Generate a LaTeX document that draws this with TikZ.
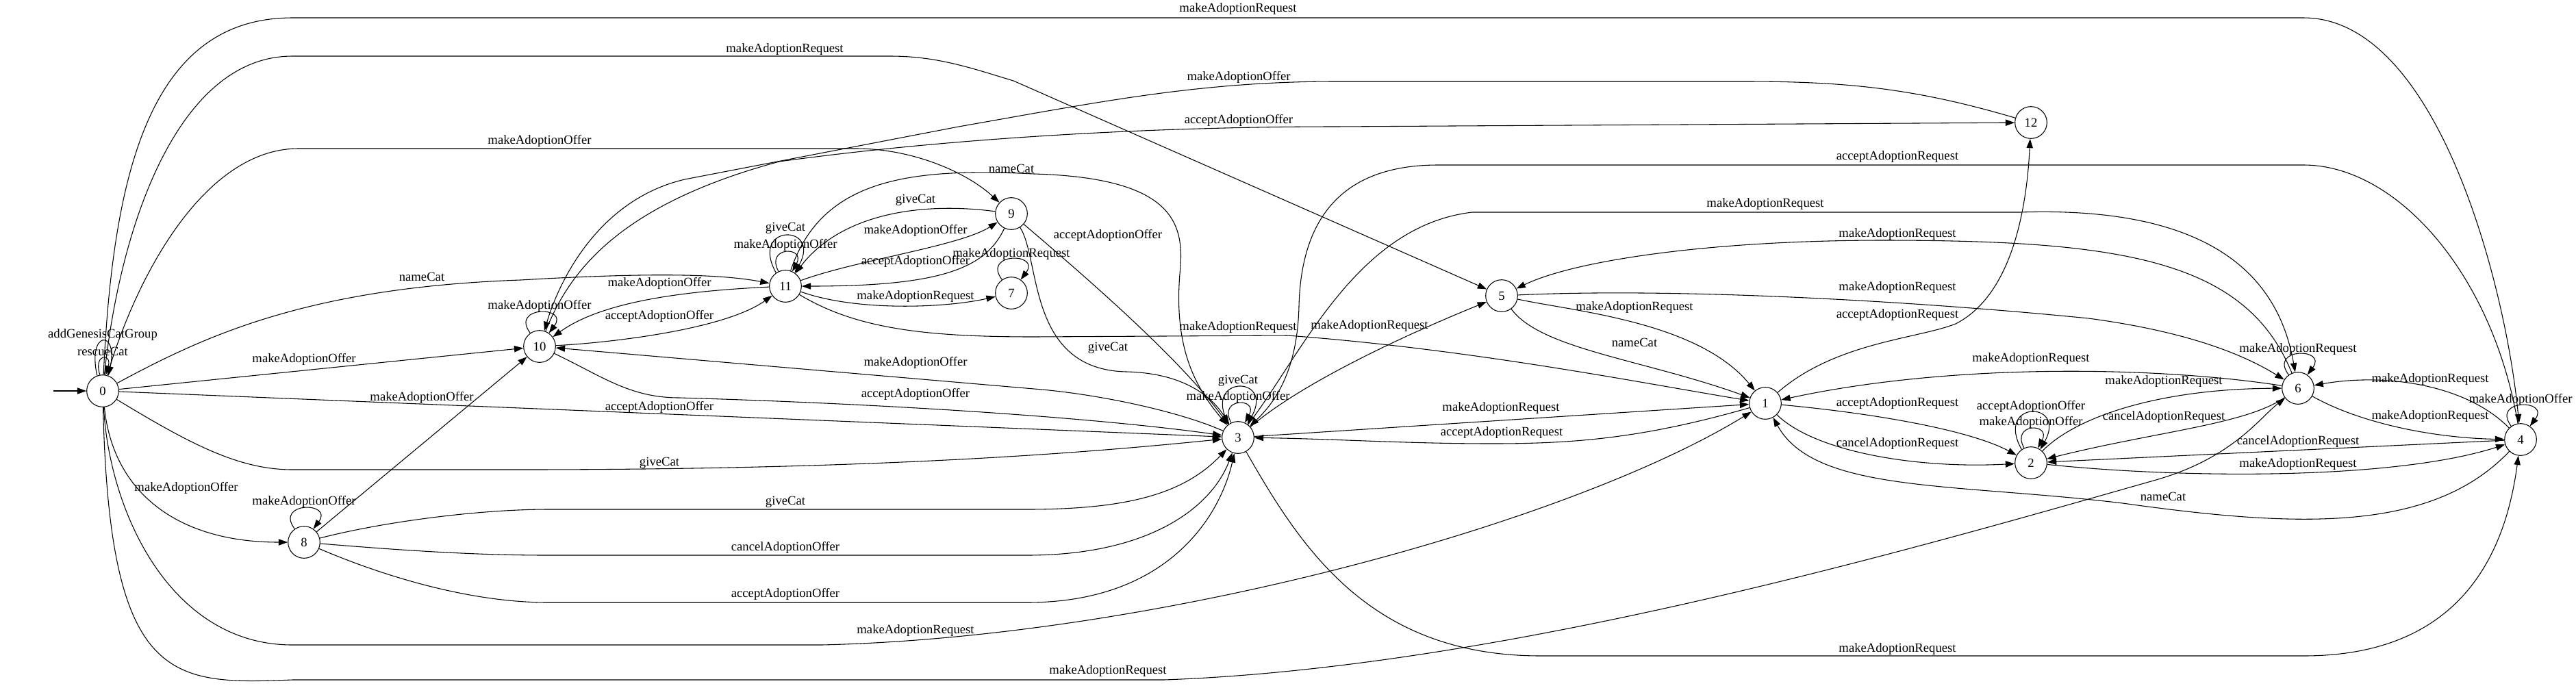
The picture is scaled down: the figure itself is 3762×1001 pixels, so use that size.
\documentclass[tikz,border=0pt]{standalone}
\usepackage{fontspec}
\setmainfont{Liberation Serif}
\usetikzlibrary{arrows.meta}

\begin{document}
\begin{tikzpicture}[x=0.75pt,y=-0.75pt,
    every node/.style={font=\fontsize{14pt}{16pt}\selectfont},
    st/.style={draw,circle,minimum size=35pt,inner sep=0pt,line width=0.8pt},
    arr/.style={-{Triangle[length=10pt,width=7pt]},line width=0.8pt},
    lbl/.style={inner sep=0pt},
  ]
  \useasboundingbox (0,0) rectangle (3762,1001);
  \fill[white] (0,0) rectangle (3762,1001);

  \node[st] (n0) at (150,571) {0};
  \node[st] (n8) at (444,792) {8};
  \node[st] (n10) at (788,506) {10};
  \node[st] (n11) at (1147,418) {11};
  \node[st] (n9) at (1477,312) {9};
  \node[st] (n7) at (1477,428) {7};
  \node[st] (n3) at (1808,639) {3};
  \node[st] (n5) at (2193,432) {5};
  \node[st] (n1) at (2578,589) {1};
  \node[st] (n12) at (2966,179) {12};
  \node[st] (n2) at (2966,676) {2};
  \node[st] (n6) at (3356,567) {6};
  \node[st] (n4) at (3681,642) {4};
  \coordinate (start) at (78,571);

  % state 0
  \draw[arr] (start) -- (n0);
  \draw[arr] (n0.110) .. controls +(-15,-67) and +(15,-67) .. (n0.70);
  \node[lbl] (l00a) at (150,489) {addGenesisCatGroup};
  \draw[arr] (n0.100) .. controls +(-10,-32) and +(10,-32) .. (n0.80);
  \node[lbl] (l00b) at (150,513) {rescueCat};
  \draw[arr] (n0) .. controls (165,250) and (220,26) .. (427,26) -- (3364,26) .. controls (3560,26) and (3660,420) .. (n4);
  \node[lbl] (l04) at (1808,13) {makeAdoptionRequest};
  \draw[arr] (n0) .. controls (175,330) and (260,82) .. (427,82) -- (1300,82) .. controls (1370,82) and (1420,100) .. (1480,118) -- (n5);
  \node[lbl] (l05) at (1146,72) {makeAdoptionRequest};
  \draw[arr] (n0) .. controls (200,400) and (300,217) .. (436,217) -- (1250,217) .. controls (1330,217) and (1410,250) .. (n9);
  \node[lbl] (l09) at (788,206) {makeAdoptionOffer};
  \draw[arr] (n0) .. controls (300,490) and (450,420) .. (760,409) .. controls (950,398) and (1050,400) .. (n11);
  \node[lbl] (l011) at (616,404) {nameCat};
  \draw[arr] (n0) -- (n10);
  \node[lbl] (l010) at (444,525) {makeAdoptionOffer};
  \draw[arr] (n0) -- (n3);
  \node[lbl] (l03a) at (963,595) {acceptAdoptionOffer};
  \draw[arr] (n0) .. controls (280,650) and (350,686) .. (427,686) -- (760,686) .. controls (1300,686) and (1600,660) .. (n3);
  \node[lbl] (l03b) at (963,676) {giveCat};
  \draw[arr] (n0) .. controls (165,720) and (260,792) .. (n8);
  \node[lbl] (l08) at (272,713) {makeAdoptionOffer};
  \draw[arr] (n0) .. controls (160,750) and (250,942) .. (427,942) -- (1200,942) .. controls (1700,930) and (2300,760) .. (n1);
  \node[lbl] (l01) at (1337,921) {makeAdoptionRequest};
  \draw[arr] (n0) .. controls (160,1000) and (250,1000) .. (427,993) -- (1700,993) .. controls (2200,975) and (2800,800) .. (3145,702) .. controls (3260,670) and (3300,610) .. (n6);
  \node[lbl] (l06) at (1618,980) {makeAdoptionRequest};

  % state 8
  \draw[arr] (n8.125) .. controls +(-30,-40) and +(30,-40) .. (n8.55);
  \node[lbl] (l88) at (444,733) {makeAdoptionOffer};
  \draw[arr] (n8) -- (n10);
  \node[lbl] (l810) at (616,581) {makeAdoptionOffer};
  \draw[arr] (n8) .. controls (560,762) and (700,744) .. (800,744) -- (1500,744) .. controls (1650,744) and (1730,720) .. (n3);
  \node[lbl] (l83a) at (1147,733) {giveCat};
  \draw[arr] (n8) .. controls (600,805) and (700,811) .. (800,811) -- (1500,811) .. controls (1680,811) and (1770,740) .. (n3);
  \node[lbl] (l83b) at (1147,800) {cancelAdoptionOffer};
  \draw[arr] (n8) .. controls (580,850) and (700,880) .. (800,880) -- (1500,880) .. controls (1700,880) and (1780,760) .. (n3);
  \node[lbl] (l83c) at (1147,868) {acceptAdoptionOffer};

  % state 10
  \draw[arr] (n10.125) .. controls +(-30,-40) and +(30,-40) .. (n10.55);
  \node[lbl] (l1010) at (788,447) {makeAdoptionOffer};
  \draw[arr] (n10) .. controls (900,500) and (1060,480) .. (n11);
  \node[lbl] (l1011) at (963,462) {acceptAdoptionOffer};
  \draw[arr] (n11) .. controls (1000,425) and (880,440) .. (n10);
  \node[lbl] (l1110) at (963,414) {makeAdoptionOffer};
  \draw[arr] (n12) .. controls (2800,130) and (2700,119) .. (2550,119) -- (1950,119) .. controls (1750,119) and (1600,150) .. (1400,185) -- (1000,262) .. controls (880,290) and (820,400) .. (n10);
  \node[lbl] (l1210) at (1809,113) {makeAdoptionOffer};
  \draw[arr] (n10) .. controls (830,400) and (900,300) .. (1138,236) .. controls (1400,200) and (1700,185) .. (1950,185) -- (n12);
  \node[lbl] (l1012) at (1809,176) {acceptAdoptionOffer};
  \draw[arr] (n3) .. controls (1720,600) and (1600,575) .. (1510,568) -- (n10);
  \node[lbl] (l310) at (1337,530) {makeAdoptionOffer};
  \draw[arr] (n10) .. controls (880,550) and (920,581) .. (992,581) .. controls (1300,590) and (1600,610) .. (n3);
  \node[lbl] (l103) at (1337,576) {acceptAdoptionOffer};

  % states 11, 9, 7
  \draw[arr] (n11.125) .. controls +(-40,-72) and +(40,-72) .. (n11.55);
  \node[lbl] (l1111a) at (1147,333) {giveCat};
  \draw[arr] (n11.115) .. controls +(-20,-37) and +(20,-37) .. (n11.65);
  \node[lbl] (l1111b) at (1147,358) {makeAdoptionOffer};
  \draw[arr] (n11) .. controls (1250,380) and (1400,360) .. (n9);
  \node[lbl] (l119) at (1337,337) {makeAdoptionOffer};
  \draw[arr] (n9) .. controls (1350,295) and (1230,310) .. (n11);
  \node[lbl] (l911a) at (1337,292) {giveCat};
  \draw[arr] (n9) .. controls (1440,390) and (1380,418) .. (n11);
  \node[lbl] (l911b) at (1337,382) {acceptAdoptionOffer};
  \draw[arr] (n11) .. controls (1250,455) and (1380,450) .. (n7);
  \node[lbl] (l117) at (1337,433) {makeAdoptionRequest};
  \draw[arr] (n7.125) .. controls +(-30,-40) and +(30,-40) .. (n7.55);
  \node[lbl] (l77) at (1477,371) {makeAdoptionRequest};
  \draw[arr] (n11) .. controls (1200,260) and (1330,245) .. (1510,254) .. controls (1720,260) and (1730,330) .. (1723,400) .. controls (1715,500) and (1740,560) .. (n3);
  \node[lbl] (l113) at (1477,246) {nameCat};
  \draw[arr] (n11) .. controls (1250,480) and (1350,492) .. (1510,492) -- (1880,490) .. controls (2150,510) and (2400,560) .. (n1);
  \node[lbl] (l111) at (1808,478) {makeAdoptionRequest};
  \draw[arr] (n9) .. controls (1580,400) and (1720,520) .. (n3);
  \node[lbl] (l93a) at (1618,344) {acceptAdoptionOffer};
  \draw[arr] (n9) .. controls (1520,380) and (1500,540) .. (1645,543) .. controls (1730,545) and (1770,580) .. (n3);
  \node[lbl] (l93b) at (1618,508) {giveCat};

  % state 3
  \draw[arr] (n3.125) .. controls +(-40,-72) and +(40,-72) .. (n3.55);
  \node[lbl] (l33a) at (1808,556) {giveCat};
  \draw[arr] (n3.115) .. controls +(-20,-37) and +(20,-37) .. (n3.65);
  \node[lbl] (l33b) at (1808,580) {makeAdoptionOffer};
  \draw[arr] (n3) .. controls (1900,560) and (2050,490) .. (n5);
  \node[lbl] (l35) at (2000,476) {makeAdoptionRequest};
  \draw[arr] (n3) -- (n1);
  \node[lbl] (l31) at (2192,596) {makeAdoptionRequest};
  \draw[arr] (n1) .. controls (2400,640) and (2300,648) .. (2180,648) .. controls (2050,648) and (1950,641) .. (n3);
  \node[lbl] (l13) at (2193,632) {acceptAdoptionRequest};
  \draw[arr] (n4) .. controls (3640,400) and (3500,241) .. (3364,241) -- (2100,241) .. controls (1950,241) and (1900,330) .. (1897,447) .. controls (1895,530) and (1870,580) .. (n3);
  \node[lbl] (l43) at (2771,229) {acceptAdoptionRequest};
  \draw[arr] (n3) .. controls (1900,520) and (1980,330) .. (2150,310) -- (2950,310) .. controls (3250,300) and (3330,420) .. (n6);
  \node[lbl] (l36) at (2578,298) {makeAdoptionRequest};
  \draw[arr] (n3) .. controls (1900,800) and (2000,958) .. (2250,958) -- (3364,958) .. controls (3600,958) and (3660,800) .. (n4);
  \node[lbl] (l34) at (2771,948) {makeAdoptionRequest};

  % states 5, 1, 12
  \draw[arr] (n6) .. controls (3280,380) and (3100,351) .. (2750,351) .. controls (2500,351) and (2300,380) .. (n5);
  \node[lbl] (l65) at (2771,342) {makeAdoptionRequest};
  \draw[arr] (n5) .. controls (2450,420) and (2800,440) .. (3050,465) .. controls (3200,485) and (3280,520) .. (n6);
  \node[lbl] (l56) at (2771,420) {makeAdoptionRequest};
  \draw[arr] (n5) .. controls (2300,455) and (2480,470) .. (n1);
  \node[lbl] (l51a) at (2387,449) {makeAdoptionRequest};
  \draw[arr] (n5) .. controls (2250,510) and (2400,525) .. (n1);
  \node[lbl] (l51b) at (2387,500) {nameCat};
  \draw[arr] (n1) .. controls (2680,500) and (2800,495) .. (2856,473) .. controls (2940,430) and (2960,300) .. (n12);
  \node[lbl] (l112) at (2771,460) {acceptAdoptionRequest};
  \draw[arr] (n6) .. controls (3150,535) and (2850,530) .. (n1);
  \node[lbl] (l61) at (2966,524) {makeAdoptionRequest};
  \draw[arr] (n1) .. controls (2750,605) and (2880,630) .. (n2);
  \node[lbl] (l12a) at (2771,589) {acceptAdoptionRequest};
  \draw[arr] (n1) .. controls (2650,660) and (2800,685) .. (n2);
  \node[lbl] (l12b) at (2771,648) {cancelAdoptionRequest};
  \draw[arr] (n4) .. controls (3550,780) and (3350,770) .. (3100,735) .. controls (2850,705) and (2650,720) .. (n1);
  \node[lbl] (l41) at (3159,725) {nameCat};

  % states 2, 6, 4
  \draw[arr] (n2.125) .. controls +(-40,-72) and +(40,-72) .. (n2.55);
  \node[lbl] (l22a) at (2966,594) {acceptAdoptionOffer};
  \draw[arr] (n2.115) .. controls +(-20,-37) and +(20,-37) .. (n2.65);
  \node[lbl] (l22b) at (2966,617) {makeAdoptionOffer};
  \draw[arr] (n2) .. controls (3030,610) and (3150,568) .. (n6);
  \node[lbl] (l26) at (3160,557) {makeAdoptionRequest};
  \draw[arr] (n6) .. controls (3280,620) and (3150,630) .. (n2);
  \node[lbl] (l62) at (3160,609) {cancelAdoptionRequest};
  \draw[arr] (n4) -- (n2);
  \node[lbl] (l42) at (3356,645) {cancelAdoptionRequest};
  \draw[arr] (n2) .. controls (3200,700) and (3500,700) .. (n4);
  \node[lbl] (l24) at (3356,678) {makeAdoptionRequest};
  \draw[arr] (n6.125) .. controls +(-30,-40) and +(30,-40) .. (n6.55);
  \node[lbl] (l66) at (3356,510) {makeAdoptionRequest};
  \draw[arr] (n6) .. controls (3450,620) and (3560,640) .. (n4);
  \node[lbl] (l64) at (3549,608) {makeAdoptionRequest};
  \draw[arr] (n4) .. controls (3600,560) and (3480,545) .. (n6);
  \node[lbl] (l46) at (3549,554) {makeAdoptionRequest};
  \draw[arr] (n4.125) .. controls +(-30,-40) and +(30,-40) .. (n4.55);
  \node[lbl] (l44) at (3681,584) {makeAdoptionOffer};
\end{tikzpicture}
\end{document}
